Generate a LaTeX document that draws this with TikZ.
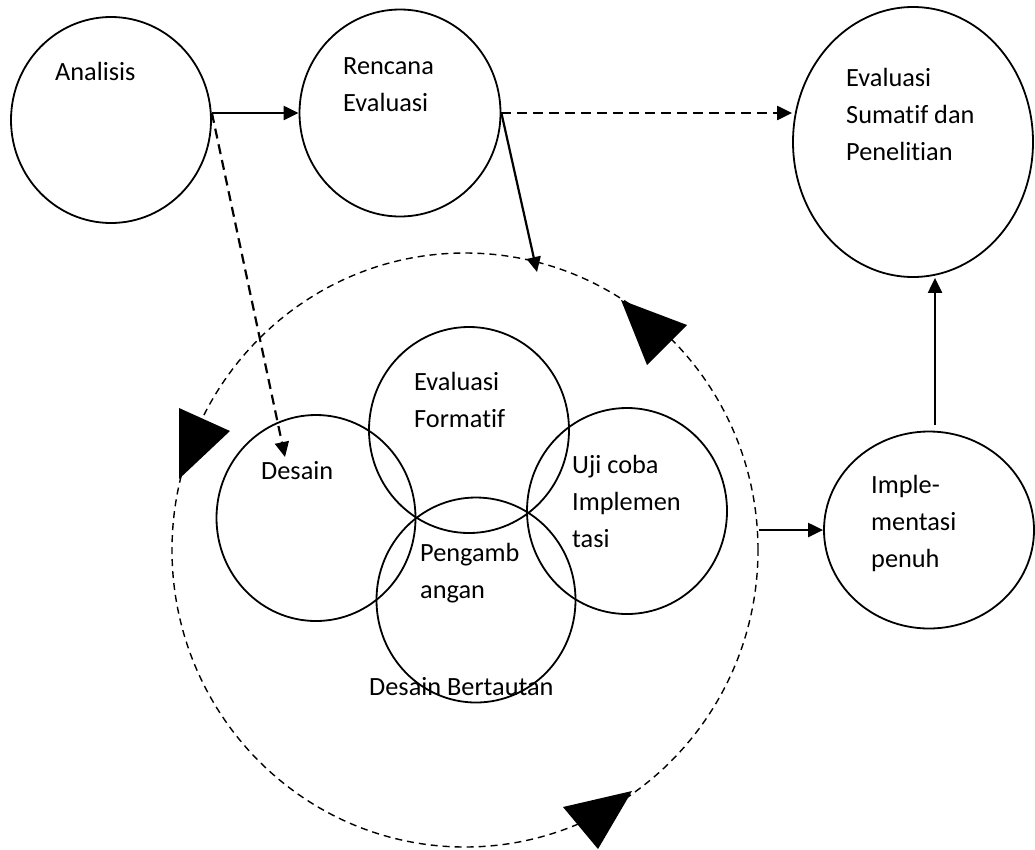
\documentclass[tikz,border=0pt]{standalone}
\usepackage{fontspec}
\setmainfont{Carlito}[Ligatures={NoCommon,NoContextual}]
\usetikzlibrary{arrows.meta,shapes.geometric}

\begin{document}
\begin{tikzpicture}[x=1pt, y=-1pt,
  bub/.style={ellipse, draw, line width=1.8pt, inner sep=0pt},
  lbl/.style={anchor=base west, align=left, inner sep=0pt, font=\fontsize{26.3}{37}\selectfont},
  arr/.style={line width=2.2pt, -{Triangle[length=15pt,width=14pt]}},
  dsh/.style={dash pattern=on 10pt off 6pt}]
\useasboundingbox (0,0) rectangle (1035,849);
% outer circles
\node[bub, minimum width=200pt, minimum height=206pt] (an) at (111,120) {};
\node[bub, minimum width=201pt, minimum height=207pt] (re) at (400,113) {};
\node[bub, minimum width=240pt, minimum height=270pt] (es) at (913,142) {};
\node[bub, minimum width=210pt, minimum height=197pt] (im) at (929,530) {};
% loop of the linked design
\node[ellipse, draw, line width=1.4pt, dash pattern=on 7pt off 5pt, inner sep=0pt,
  minimum width=586pt, minimum height=594pt] (loop) at (465,550) {};
\node[bub, minimum width=199pt, minimum height=206pt] (ds) at (316,518) {};
\node[bub, minimum width=200pt, minimum height=206pt] (ef) at (469,430) {};
\node[bub, minimum width=200pt, minimum height=206pt] (uj) at (627,511) {};
\node[bub, minimum width=199pt, minimum height=205pt] (pg) at (476,600) {};
% labels (base = last line)
\node[lbl] (t-an) at (55,80) {Analisis};
\node[lbl] (t-re) at (343,111) {Rencana\\Evaluasi};
\node[lbl] (t-es) at (846,160) {Evaluasi\\Sumatif dan\\Penelitian};
\node[lbl] (t-ef) at (414,427) {Evaluasi\\Formatif};
\node[lbl] (t-ds) at (261,479) {Desain};
\node[lbl] (t-uj) at (572,547) {Uji coba\\Implemen\\tasi};
\node[lbl] (t-pg) at (420,598) {Pengamb\\angan};
\node[lbl] (t-db) at (369,695) {Desain Bertautan};
\node[lbl] (t-im) at (871,567) {Imple-\\mentasi\\penuh};
% arrow heads on the loop
\fill (621,300) -- (687,325) -- (647,365) -- cycle;
\fill (179,408) -- (230,431) -- (179,479) -- cycle;
\fill (563,807) -- (632,791) -- (598,849) -- cycle;
% connectors
\coordinate (dsin) at (285,457);
\coordinate (loopin) at (537,272);
\draw[arr] (an.east |- re.west) -- (re.west);
\draw[arr, dsh] (an.east |- re.west) -- (dsin);
\draw[arr, dsh] (re.east) -- (re.east -| es.west);
\draw[arr] (re.east) -- (loopin);
\draw[arr] (loop.east |- im.west) -- (im.west);
\draw[arr] ([shift={(6,-6)}]im.north) -- ([xshift=6pt]im.north |- es.south);
\end{tikzpicture}
\end{document}
